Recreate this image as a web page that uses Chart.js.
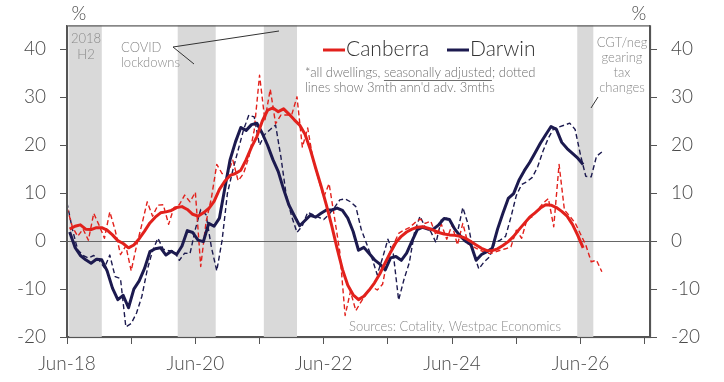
<!DOCTYPE html>
<html>
<head>
<meta charset="utf-8">
<script src="https://cdn.jsdelivr.net/npm/chart.js@4.4.1/dist/chart.umd.min.js"></script>
<style>
  html, body { margin: 0; padding: 0; background: #fff; }
  #wrap { width: 724px; height: 382px; }
</style>
</head>
<body>
<div id="wrap"><canvas id="dwellingChart"></canvas></div>
<script>
// Months counted from Jun-18 (0) on the x axis
const xTicks = [0, 12, 24, 36, 48, 60, 72, 84, 96, 108];
const xLabels = ["Jun-18", "", "Jun-20", "", "Jun-22", "", "Jun-24", "", "Jun-26", ""];
const yTicks = [-20, -10, 0, 10, 20, 30, 40];

// shaded periods: [start month, end month]
const bandStarts = [0.4, 20.7, 36.8, 95.4];
const bandEnds = [6.5, 27.8, 43.0, 98.4];

// monthly dwelling value growth, %, from Jun-18
const canberra = [
  2.5, 3.1, 3.4, 2.5, 2.4, 2.8, 2.8, 2.3, 1.3, 0.1,
  -0.5, -1.4, -0.8, 0.5, 2.1, 3.8, 5.0, 5.9, 6.1, 6.4,
  7.0, 7.2, 6.6, 5.6, 5.2, 5.9, 6.8, 8.3, 10.8, 12.5,
  13.7, 14.1, 14.8, 17.0, 19.6, 21.8, 25.0, 27.3, 27.8, 27.0,
  27.6, 26.5, 25.3, 24.2, 22.3, 19.1, 15.2, 11.5, 7.5, 3.2,
  -1.5, -5.9, -9.2, -11.2, -12.2, -11.5, -10.2, -8.7, -6.8, -4.5,
  -2.3, -0.3, 1.0, 1.9, 2.5, 2.9, 3.0, 2.7, 2.3, 1.8,
  1.5, 1.3, 1.2, 1.0, 0.6, -0.1, -0.8, -1.5, -2.0, -2.0,
  -1.6, -0.9, -0.1, 1.0, 2.4, 3.7, 5.0, 5.9, 6.9, 7.6,
  7.5, 7.0, 6.2, 5.2, 3.5, 1.2, -1.4
];
const darwin = [
  1.9, -1.3, -3.0, -3.9, -4.6, -3.8, -3.9, -6.2, -9.8, -12.2,
  -11.3, -13.9, -10.0, -8.3, -5.7, -2.2, -1.6, -1.4, -2.9, -2.1,
  -2.8, -1.0, 2.2, 1.8, 0.2, -0.1, 3.7, 3.1, 4.8, 11.0,
  17.0, 20.7, 23.7, 23.1, 24.3, 24.6, 22.5, 20.0, 17.0, 14.5,
  10.8, 7.5, 5.3, 3.2, 4.3, 5.4, 5.0, 5.8, 6.5, 6.5,
  6.9, 6.4, 4.8, 2.0, -1.9, -1.3, -2.6, -3.9, -4.8, -6.0,
  -3.5, -3.2, -4.0, -2.5, 0.0, 2.4, 2.9, 2.5, 2.5, 3.4,
  4.7, 4.5, 2.5, 1.1, 0.0, -0.7, -4.0, -2.8, -2.2, -1.5,
  2.5, 5.8, 8.9, 9.9, 12.7, 14.7, 16.4, 18.4, 20.4, 22.2,
  23.9, 23.3, 20.6, 19.3, 18.3, 17.3, 16.0
];

// 3mth annualised, advanced 3 months (dotted)
const canberra3m = [
  7.0, 3.0, 1.0, 2.5, 0.2, 5.8, 3.3, 0.6, 6.1, 2.3,
  -2.8, -1.0, -6.2, -1.0, 3.5, 8.2, 5.2, 7.5, 7.6, 3.5,
  7.0, 7.6, 9.6, 8.2, 10.2, -5.3, 4.0, 9.0, 16.0, 14.1,
  14.0, 16.9, 12.6, 14.1, 17.5, 23.1, 34.6, 25.2, 31.7, 24.5,
  26.3, 26.3, 26.3, 30.1, 19.6, 23.6, 17.0, 13.0, 9.2, 12.0,
  5.0, -2.2, -15.5, -10.5, -14.5, -12.6, -11.0, -9.5, -10.2, -9.0,
  -3.3, -0.8, 1.6, 2.3, 2.8, 3.8, 4.6, 3.7, 4.2, 1.2,
  3.5, 0.4, 3.4, -0.8, 3.7, -0.6, -1.2, -1.8, -2.3, -2.6,
  -2.3, -1.9, -1.6, -1.2, 2.3, 0.6, 4.5, 5.1, 6.5, 7.9,
  8.9, 3.0, 16.0, 6.5, 5.2, 3.8, 1.5, -0.8, -4.3, -4.0,
  -6.4
];
const darwin3m = [
  8.0, 2.5, -1.8, -3.0, -3.5, -3.0, -4.0, -5.6, -2.9, -7.4,
  -7.8, -17.9, -17.2, -15.0, -11.5, -6.0, -2.0, 0.6, -1.7, -2.0,
  -2.0, -4.0, -2.5, -2.6, 2.5, 6.6, 5.5, -1.3, -6.2, 0.2,
  10.0, 14.8, 19.0, 23.2, 26.3, 25.9, 20.0, 22.3, 23.3, 24.2,
  17.5, 9.5, 5.2, 1.8, 3.2, 6.0, 5.5, 5.0, 4.5, 5.6,
  7.0, 8.6, 8.8, 8.2, 7.2, 2.5, -0.5, -3.5, -7.0, -3.5,
  0.4, -2.6, -12.3, -8.0, -4.5, 2.0, 5.2, 2.8, 2.0, -0.3,
  4.5, 4.8, 3.5, 1.8, 7.0, 3.5, -2.5, -5.8, -4.3, -3.3,
  -0.3, 0.2, 1.0, 5.0, 9.5, 11.8, 12.4, 13.3, 15.5, 18.8,
  21.5, 23.5, 23.8, 24.2, 24.6, 23.3, 18.0, 13.5, 13.4, 17.7,
  18.6
];

const RED = "#e2211c";
const NAVY = "#1c1a4f";
const FONT = "Lato";
const AXIS = "#555555";
const NOTE = "#8a8a8a";

// solid series sit mid-month, dotted series on the month
const toPoints = (arr, offset) => arr.map((v, i) => ({ x: i + offset, y: v }));

const bandsPlugin = {
  id: "bands",
  beforeDatasetsDraw(chart) {
    const { ctx, chartArea: a, scales } = chart;
    ctx.save();
    ctx.fillStyle = "#d9d9d9";
    bandStarts.forEach((s, i) => {
      const x0 = scales.x.getPixelForValue(s);
      const x1 = scales.x.getPixelForValue(bandEnds[i]);
      ctx.fillRect(x0, a.top, x1 - x0, a.bottom - a.top);
    });
    // zero line
    const y0 = Math.round(scales.y.getPixelForValue(0)) + 0.5;
    ctx.strokeStyle = "#666";
    ctx.lineWidth = 1.2;
    ctx.beginPath();
    ctx.moveTo(a.left, y0);
    ctx.lineTo(a.right, y0);
    ctx.stroke();
    ctx.restore();
  },
};

const notesPlugin = {
  id: "notes",
  afterDraw(chart) {
    const { ctx, chartArea: a } = chart;
    ctx.save();
    // frame
    ctx.strokeStyle = AXIS;
    ctx.lineWidth = 1.2;
    ctx.strokeRect(a.left + 0.5, a.top + 0.5, a.right - a.left, a.bottom - a.top);

    // % units
    ctx.fillStyle = "#4a4a4a";
    ctx.font = `300 19px ${FONT}`;
    ctx.textAlign = "center";
    ctx.textBaseline = "middle";
    ctx.fillText("%", 79, 14);
    ctx.fillText("%", 639, 14);

    // legend
    ctx.textAlign = "left";
    ctx.font = `300 21px ${FONT}`;
    ctx.lineWidth = 3;
    ctx.strokeStyle = RED;
    ctx.beginPath(); ctx.moveTo(323, 50); ctx.lineTo(345, 50); ctx.stroke();
    ctx.fillStyle = "#333";
    ctx.fillText("Canberra", 346, 49);
    ctx.strokeStyle = NAVY;
    ctx.beginPath(); ctx.moveTo(447, 50); ctx.lineTo(469, 50); ctx.stroke();
    ctx.fillText("Darwin", 470, 49);

    // period notes
    ctx.fillStyle = NOTE;
    ctx.font = `300 13px ${FONT}`;
    ctx.textAlign = "center";
    ctx.fillText("2018", 86, 39);
    ctx.fillText("H2", 86, 55);
    ctx.textAlign = "left";
    ctx.fillText("COVID", 121, 48);
    ctx.fillText("lockdowns", 121, 63);
    ctx.strokeStyle = "#333";
    ctx.lineWidth = 1;
    ctx.beginPath();
    ctx.moveTo(279, 31); ctx.lineTo(173, 47); ctx.lineTo(194, 64);
    ctx.stroke();

    ctx.textAlign = "center";
    ["CGT/neg", "gearing", "tax", "changes"].forEach((t, i) => ctx.fillText(t, 622, 43 + i * 15));
    ctx.beginPath(); ctx.moveTo(598, 97); ctx.lineTo(591, 108); ctx.stroke();

    // footnote with underlined phrase
    ctx.textAlign = "left";
    ctx.fillStyle = "#6e6e6e";
    let x = 305;
    const y1 = 73;
    const parts = ["*all dwellings, ", "seasonally adjusted", "; dotted"];
    parts.forEach((p, i) => {
      ctx.fillText(p, x, y1);
      const w = ctx.measureText(p).width;
      if (i === 1) {
        ctx.strokeStyle = "#6e6e6e";
        ctx.beginPath(); ctx.moveTo(x, y1 + 7.5); ctx.lineTo(x + w, y1 + 7.5); ctx.stroke();
      }
      x += w;
    });
    ctx.fillText("lines show 3mth ann'd adv. 3mths", 305, 88);

    ctx.fillStyle = NOTE;
    ctx.fillText("Sources: Cotality, Westpac Economics", 349, 327);
    ctx.restore();
  },
};

const tickFont = { family: FONT, size: 19, weight: "300" };

const yAxis = (position, width) => ({
  type: "linear",
  position: position,
  min: -20,
  max: 45,
  afterBuildTicks: (s) => { s.ticks = yTicks.map((v) => ({ value: v })); },
  afterFit: (s) => { s.width = width; },
  ticks: { font: tickFont, color: "#4a4a4a", padding: 14 },
  grid: { drawOnChartArea: false, tickLength: 7, color: AXIS },
  border: { color: AXIS, width: 1.2 },
});

new Chart(document.getElementById("dwellingChart"), {
  type: "line",
  data: {
    datasets: [
      { label: "Canberra", data: toPoints(canberra, 0.5), borderColor: RED, borderWidth: 3 },
      { label: "Darwin", data: toPoints(darwin, 0.5), borderColor: NAVY, borderWidth: 3 },
      { label: "Canberra 3m", data: toPoints(canberra3m, 0), borderColor: RED, borderWidth: 1.4, borderDash: [5, 3] },
      { label: "Darwin 3m", data: toPoints(darwin3m, 0), borderColor: NAVY, borderWidth: 1.4, borderDash: [5, 3] },
    ],
  },
  options: {
    responsive: true,
    maintainAspectRatio: false,
    animation: false,
    devicePixelRatio: 1,
    layout: { padding: { top: 24, left: 0, right: 0, bottom: 0 } },
    elements: { point: { radius: 0 }, line: { tension: 0, borderJoinStyle: "round" } },
    plugins: { legend: { display: false }, tooltip: { enabled: false } },
    scales: {
      x: {
        type: "linear",
        min: 0,
        max: 109,
        afterBuildTicks: (s) => { s.ticks = xTicks.map((v) => ({ value: v })); },
        afterFit: (s) => { s.height = 45; },
        ticks: {
          font: tickFont,
          color: "#4a4a4a",
          maxRotation: 0,
          autoSkip: false,
          padding: 8,
          callback: (v) => xLabels[xTicks.indexOf(v)],
        },
        grid: { drawOnChartArea: false, tickLength: 7, color: AXIS },
        border: { color: AXIS, width: 1.2 },
      },
      y: yAxis("left", 67),
      y2: yAxis("right", 74),
    },
  },
  plugins: [bandsPlugin, notesPlugin],
});
</script>
</body>
</html>
